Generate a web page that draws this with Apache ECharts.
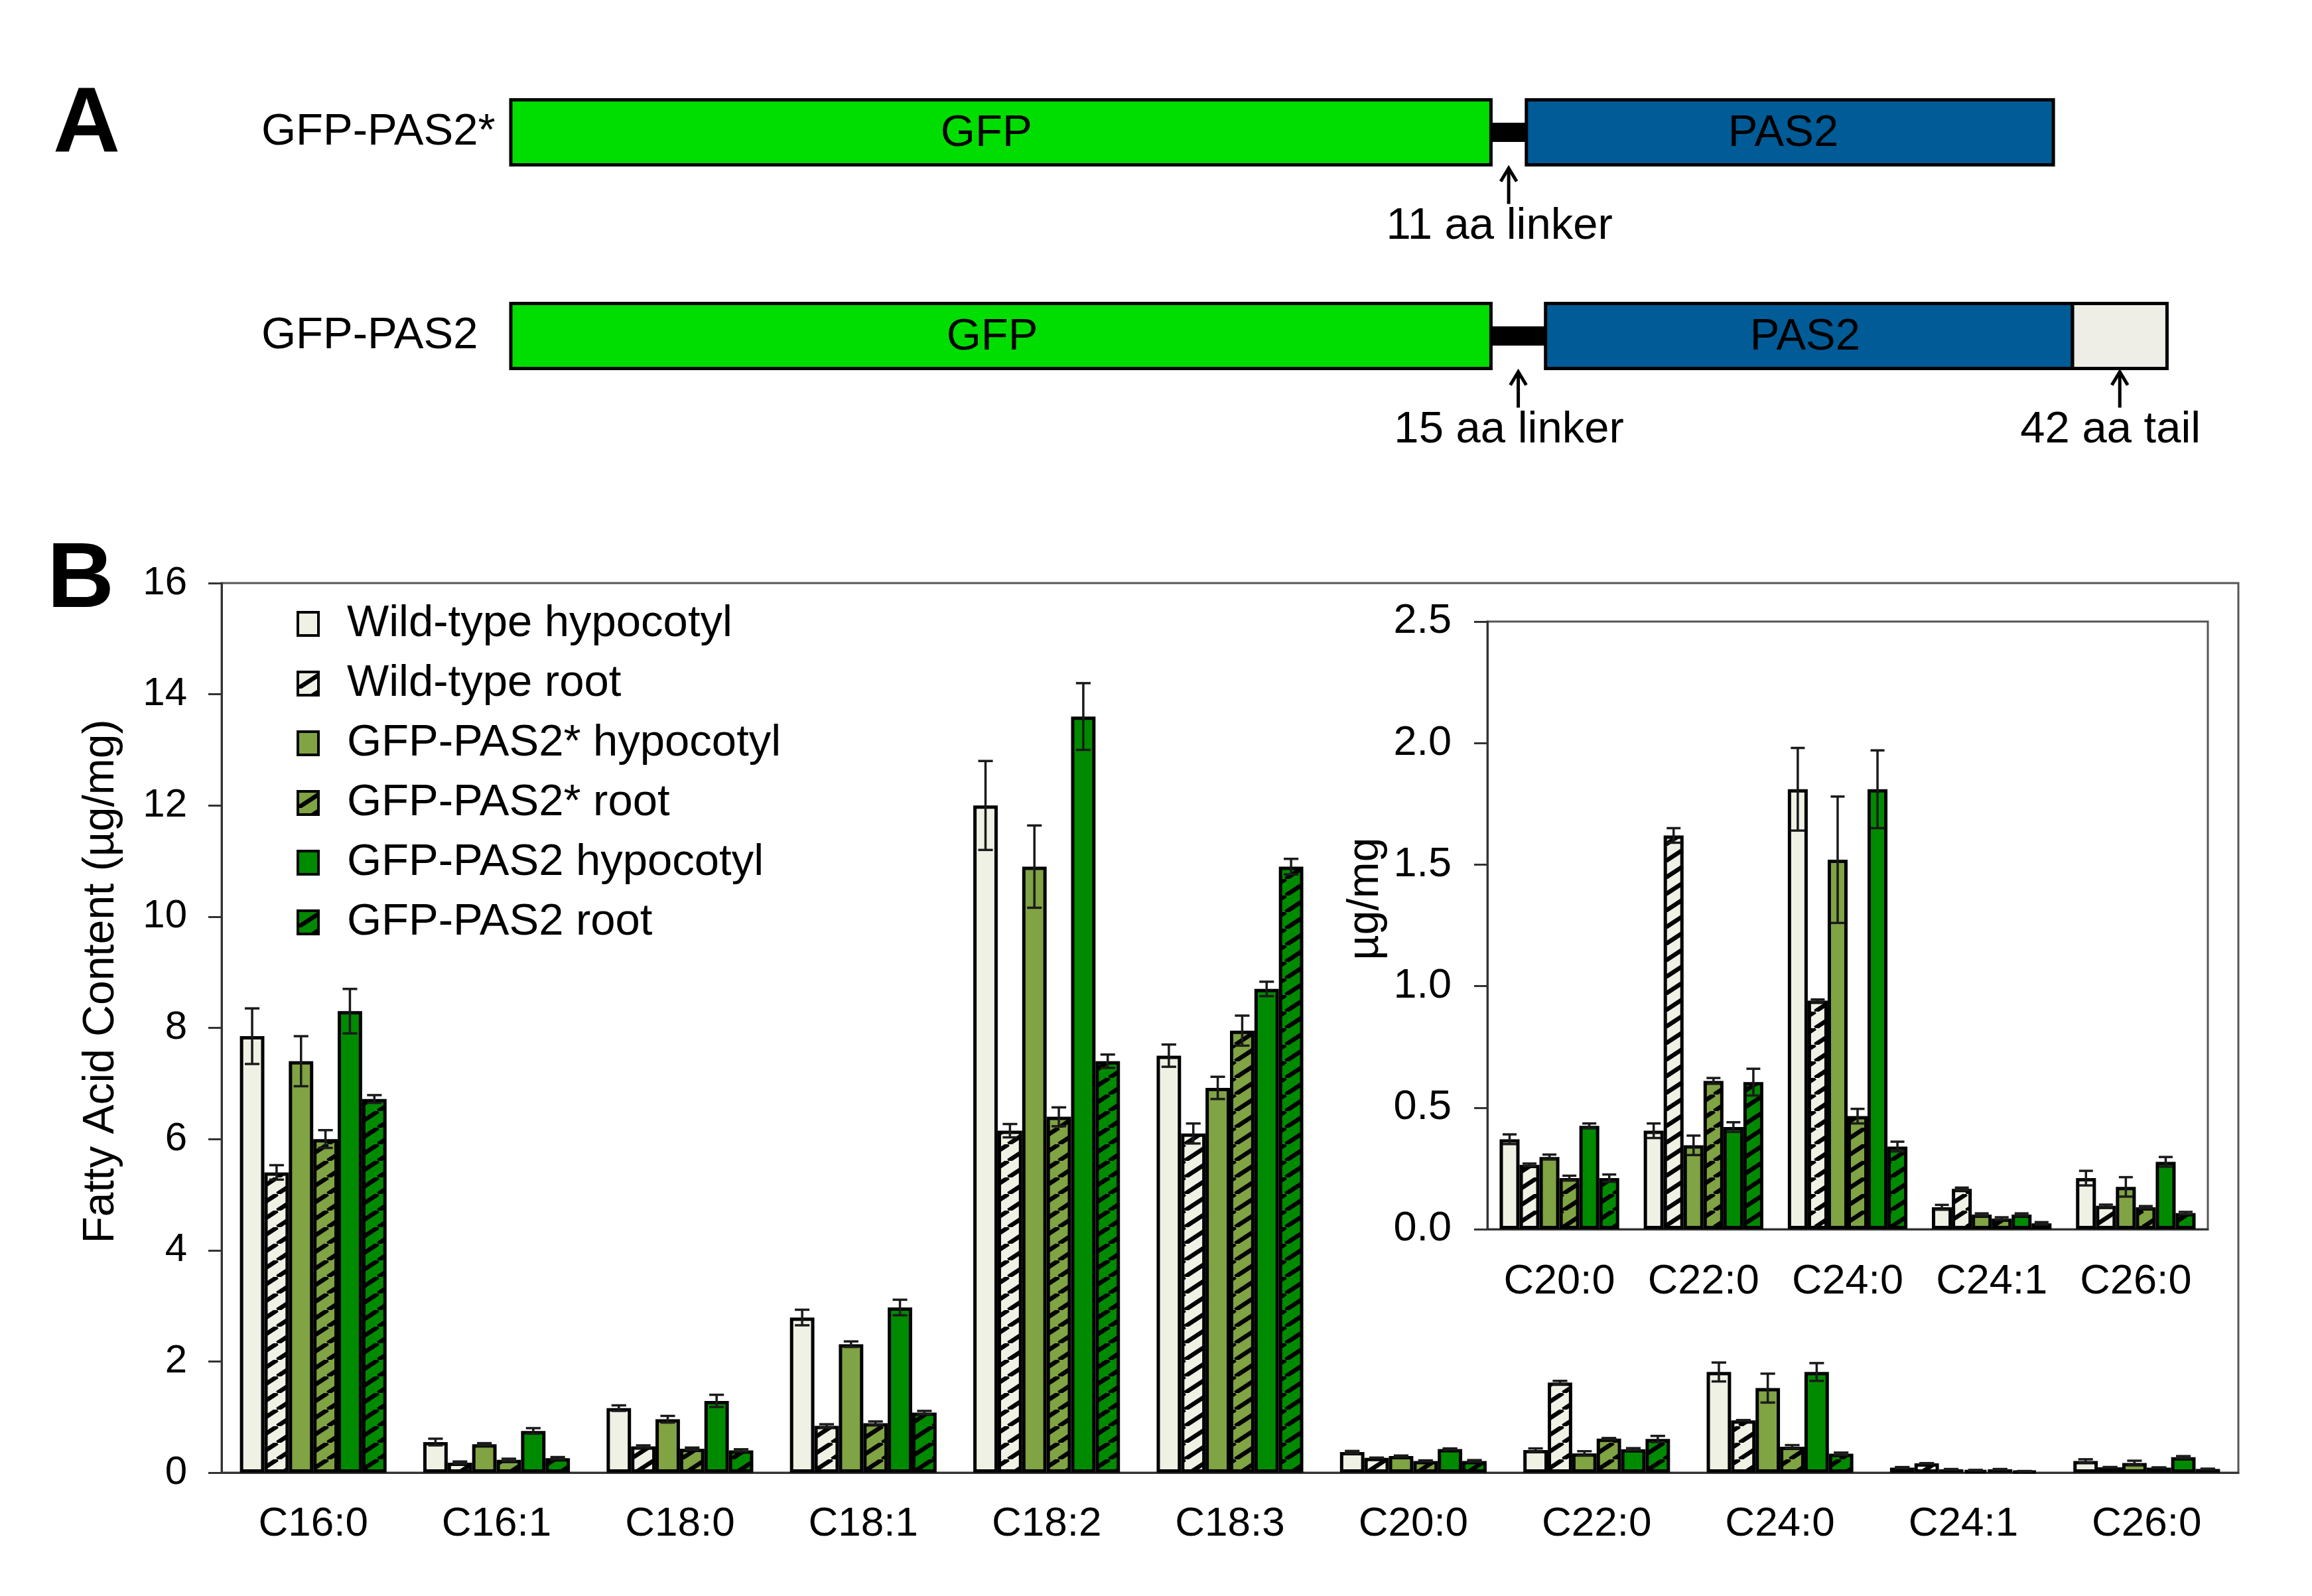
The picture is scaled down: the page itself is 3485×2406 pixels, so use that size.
<!DOCTYPE html>
<html><head><meta charset="utf-8">
<script src="https://cdn.jsdelivr.net/npm/echarts@6/dist/echarts.min.js"></script>
<style>html,body{margin:0;padding:0;background:#fff}#c{width:3485px;height:2406px}</style>
</head><body><div id="c"></div>
<script>
// ---------- Panel B data ----------
const categories = ['C16:0','C16:1','C18:0','C18:1','C18:2','C18:3','C20:0','C22:0','C24:0','C24:1','C26:0'];
const insetStart = 6; // inset shows C20:0 .. C26:0
const seriesNames = ['Wild-type hypocotyl','Wild-type root','GFP-PAS2* hypocotyl','GFP-PAS2* root','GFP-PAS2 hypocotyl','GFP-PAS2 root'];

const wtHypocotyl    = [7.85, 0.55, 1.16, 2.79, 12.0, 7.50, 0.370, 0.405, 1.81, 0.090, 0.210];
const wtRoot         = [5.40, 0.18, 0.47, 0.84, 6.15, 6.10, 0.265, 1.620, 0.94, 0.166, 0.096];
const pas2sHypocotyl = [7.40, 0.51, 0.96, 2.31, 10.9, 6.92, 0.297, 0.345, 1.52, 0.060, 0.174];
const pas2sRoot      = [6.00, 0.23, 0.43, 0.89, 6.40, 7.95, 0.210, 0.610, 0.465, 0.044, 0.090];
const pas2Hypocotyl  = [8.30, 0.75, 1.29, 2.97, 13.6, 8.70, 0.425, 0.420, 1.81, 0.060, 0.277];
const pas2Root       = [6.72, 0.26, 0.40, 1.08, 7.40, 10.9, 0.210, 0.605, 0.34, 0.024, 0.066];

const wtHypocotylErr    = [0.50, 0.06, 0.05, 0.14, 0.80, 0.20, 0.020, 0.030, 0.17, 0.010, 0.030];
const wtRootErr         = [0.13, 0.02, 0.02, 0.03, 0.12, 0.18, 0.005, 0.030, 0.005, 0.005, 0.005];
const pas2sHypocotylErr = [0.45, 0.02, 0.06, 0.05, 0.74, 0.20, 0.010, 0.040, 0.26, 0.005, 0.040];
const pas2sRootErr      = [0.16, 0.02, 0.02, 0.03, 0.17, 0.27, 0.010, 0.012, 0.03, 0.005, 0.005];
const pas2HypocotylErr  = [0.40, 0.05, 0.11, 0.14, 0.60, 0.13, 0.010, 0.020, 0.16, 0.005, 0.020];
const pas2RootErr       = [0.07, 0.02, 0.02, 0.03, 0.12, 0.14, 0.015, 0.055, 0.02, 0.005, 0.005];

const mainYTicks  = [0, 2, 4, 6, 8, 10, 12, 14, 16];
const insetYTicks = [0.0, 0.5, 1.0, 1.5, 2.0, 2.5];

// ---------- Panel A data (schematic segment lengths) ----------
const constructs   = ['GFP-PAS2*', 'GFP-PAS2'];
const gfpLength    = [664, 664];
const linkerLength = [24, 37];
const pas2Length   = [357, 357];
const tailLength   = [0, 64];
const domainLabels = ['GFP', '', 'PAS2', ''];
const annotationLabels = ['11 aa linker', '15 aa linker', '42 aa tail'];

// ---------- styles ----------
const FONT = "'Liberation Sans', Arial, sans-serif";
const baseColors = ['#EEF1E4', '#EEF1E4', '#80A343', '#80A343', '#008A00', '#008A00'];
const hatched = [false, true, false, true, false, true];
const domainColors = ['#00DD00', '#000000', '#005B96', '#EEEEE6'];
const labelShift = [-22, 0, -10, 0];

function hatch(base) {
  const W = 38, V = 25;
  const c = document.createElement('canvas');
  c.width = W; c.height = V;
  const g = c.getContext('2d');
  g.fillStyle = base; g.fillRect(0, 0, W, V);
  g.strokeStyle = '#000'; g.lineWidth = 6.5;
  g.beginPath();
  for (const k of [-1, 0, 1]) { g.moveTo(k * W, V); g.lineTo(k * W + W, 0); }
  g.stroke();
  return { image: c, repeat: 'repeat' };
}
const fills = baseColors.map((c, i) => hatched[i] ? hatch(c) : c);

const allValues = [wtHypocotyl, wtRoot, pas2sHypocotyl, pas2sRoot, pas2Hypocotyl, pas2Root];
const allErrors = [wtHypocotylErr, wtRootErr, pas2sHypocotylErr, pas2sRootErr, pas2HypocotylErr, pas2RootErr];

// ---------- Panel A segments ----------
const segments = [];
const annotationPoints = [];
constructs.forEach((name, r) => {
  let s = 0;
  segments.push([s, s + gfpLength[r], r, 0]); s += gfpLength[r];
  segments.push([s, s + linkerLength[r], r, 1]);
  annotationPoints.push([s + linkerLength[r] / 2, r]);
  s += linkerLength[r];
  segments.push([s, s + pas2Length[r], r, 2]); s += pas2Length[r];
  if (tailLength[r] > 0) {
    segments.push([s, s + tailLength[r], r, 3]);
    annotationPoints.push([s + tailLength[r] / 2, r]);
  }
});

const series = [];
// panel A boxes
series.push({
  type: 'custom', xAxisIndex: 0, yAxisIndex: 0, silent: true,
  data: segments, encode: { x: [0, 1], y: 2 },
  renderItem(params, api) {
    const x0 = api.value(0), x1 = api.value(1), r = api.value(2), k = api.value(3);
    const p0 = api.coord([x0, r]), p1 = api.coord([x1, r]);
    const h = k === 1 ? 29 : 98;
    const ch = [{
      type: 'rect',
      shape: { x: p0[0], y: p0[1] - h / 2, width: p1[0] - p0[0], height: h },
      style: { fill: domainColors[k], stroke: k === 1 ? null : '#000', lineWidth: 5 }
    }];
    if (domainLabels[k]) {
      ch.push({ type: 'text', z2: 5, style: { text: domainLabels[k], x: (p0[0] + p1[0]) / 2 + labelShift[k] * (r === 0 ? 1 : 0.6), y: p0[1] + 2,
        align: 'center', verticalAlign: 'middle', fontSize: 67, fontFamily: FONT, fill: '#000' } });
    }
    return { type: 'group', children: ch };
  }
});
// panel A annotations
series.push({
  type: 'custom', xAxisIndex: 0, yAxisIndex: 0, silent: true,
  data: annotationPoints, encode: { x: 0, y: 1 },
  renderItem(params, api) {
    const p = api.coord([api.value(0), api.value(1)]);
    const tip = p[1] + 52, end = p[1] + 108;
    return { type: 'group', children: [
      { type: 'line', shape: { x1: p[0], y1: tip + 2, x2: p[0], y2: end }, style: { stroke: '#000', lineWidth: 5 } },
      { type: 'polyline', shape: { points: [[p[0] - 12, tip + 22], [p[0], tip + 2], [p[0] + 12, tip + 22]] }, style: { stroke: '#000', lineWidth: 5, fill: null } },
      { type: 'text', style: { text: annotationLabels[params.dataIndex], x: p[0] - 14, y: p[1] + 142,
        align: 'center', verticalAlign: 'middle', fontSize: 67, fontFamily: FONT, fill: '#000' } }
    ]};
  }
});

function errSeries(idx, axis, vals, errs, gapFrac, capFrac) {
  return {
    type: 'custom', name: 'err' + axis + '_' + idx, xAxisIndex: axis, yAxisIndex: axis, z: 10, silent: true,
    data: vals.map((v, i) => [i, v, errs[i]]), encode: { x: 0, y: 1 },
    renderItem(params, api) {
      const ci = api.value(0), v = api.value(1), e = api.value(2);
      const band = api.size([1, 0])[0];
      const gw = band * (1 - gapFrac);
      const bw = gw / 6;
      const cx = api.coord([ci, v])[0] - gw / 2 + (idx + 0.5) * bw;
      const yT = api.coord([ci, v + e])[1], yB = api.coord([ci, v - e])[1];
      const hw = bw * capFrac;
      const st = { stroke: '#1a1a1a', lineWidth: 3.5 };
      return { type: 'group', children: [
        { type: 'line', shape: { x1: cx, y1: yT, x2: cx, y2: yB }, style: st },
        { type: 'line', shape: { x1: cx - hw, y1: yT, x2: cx + hw, y2: yT }, style: st },
        { type: 'line', shape: { x1: cx - hw, y1: yB, x2: cx + hw, y2: yB }, style: st }
      ]};
    }
  };
}

const mainGap = 0.20, insetGap = 0.17;
seriesNames.forEach((name, i) => {
  series.push({
    type: 'bar', name, xAxisIndex: 1, yAxisIndex: 1, data: allValues[i],
    barGap: '0%', barCategoryGap: (mainGap * 100) + '%',
    itemStyle: { color: fills[i], borderColor: '#000', borderWidth: 5 }
  });
});
seriesNames.forEach((name, i) => {
  series.push({
    type: 'bar', name, xAxisIndex: 2, yAxisIndex: 2, data: allValues[i].slice(insetStart),
    barGap: '0%', barCategoryGap: (insetGap * 100) + '%',
    itemStyle: { color: fills[i], borderColor: '#000', borderWidth: 5 }
  });
});
seriesNames.forEach((name, i) => {
  series.push(errSeries(i, 1, allValues[i], allErrors[i], mainGap, 0.3));
  series.push(errSeries(i, 2, allValues[i].slice(insetStart), allErrors[i].slice(insetStart), insetGap, 0.35));
});

const axisLineStyle = { color: '#333', width: 3 };
const chart = echarts.init(document.getElementById('c'), null, { renderer: 'canvas' });
chart.setOption({
  backgroundColor: '#fff',
  animation: false,
  textStyle: { fontFamily: FONT },
  graphic: [
    { type: 'text', left: 80, top: 120, style: { text: 'A', fontSize: 140, fontWeight: 'bold', fontFamily: FONT, fill: '#000' } },
    { type: 'text', left: 71, top: 806, style: { text: 'B', fontSize: 140, fontWeight: 'bold', fontFamily: FONT, fill: '#000' } }
  ],
  legend: {
    data: seriesNames.map(n => ({ name: n, icon: 'rect' })), orient: 'vertical', left: 447, top: 907, padding: 0,
    itemWidth: 31, itemHeight: 35, itemGap: 23, selectedMode: false,
    itemStyle: { borderColor: '#000', borderWidth: 4 },
    textStyle: { fontSize: 67, fontFamily: FONT, color: '#000', padding: [0, 0, 0, 38] }
  },
  grid: [
    { left: 770, width: 2670, top: 46, height: 614 },
    { left: 334, width: 3040, top: 879, height: 1341, show: true, borderColor: '#555', borderWidth: 3, backgroundColor: 'transparent' },
    { left: 2242, width: 1086, top: 937, height: 916, show: true, borderColor: '#555', borderWidth: 3, backgroundColor: '#fff' }
  ],
  xAxis: [
    { type: 'value', gridIndex: 0, min: 0, max: 1200, show: false },
    { type: 'category', gridIndex: 1, data: categories,
      axisLine: { lineStyle: axisLineStyle }, axisTick: { length: 24, lineStyle: axisLineStyle },
      axisLabel: { fontSize: 62, color: '#000', margin: 47, fontFamily: FONT, interval: 0 } },
    { type: 'category', gridIndex: 2, data: categories.slice(insetStart),
      axisLine: { lineStyle: axisLineStyle }, axisTick: { length: 22, lineStyle: axisLineStyle },
      axisLabel: { fontSize: 63, color: '#000', margin: 48, fontFamily: FONT, interval: 0 } }
  ],
  yAxis: [
    { type: 'category', gridIndex: 0, data: constructs, inverse: true,
      axisLine: { show: false }, axisTick: { show: false },
      axisLabel: { align: 'left', margin: 376, fontSize: 67, color: '#000', fontFamily: FONT } },
    { type: 'value', gridIndex: 1, min: mainYTicks[0], max: mainYTicks[mainYTicks.length - 1], interval: mainYTicks[1] - mainYTicks[0],
      name: 'Fatty Acid Content (µg/mg)', nameLocation: 'middle', nameGap: 148, nameRotate: 90,
      nameTextStyle: { fontSize: 66, color: '#000', fontFamily: FONT, padding: [0, 0, 0, 140] },
      axisLine: { show: true, lineStyle: axisLineStyle }, axisTick: { show: true, length: 20, lineStyle: axisLineStyle },
      splitLine: { show: false },
      axisLabel: { fontSize: 60, color: '#000', margin: 52, fontFamily: FONT } },
    { type: 'value', gridIndex: 2, min: insetYTicks[0], max: insetYTicks[insetYTicks.length - 1], interval: insetYTicks[1] - insetYTicks[0],
      name: 'µg/mg', nameLocation: 'middle', nameGap: 150, nameRotate: 90,
      nameTextStyle: { fontSize: 66, color: '#000', fontFamily: FONT, padding: [0, 0, 0, 80] },
      axisLine: { show: true, lineStyle: axisLineStyle }, axisTick: { show: true, length: 20, lineStyle: axisLineStyle },
      splitLine: { show: false },
      axisLabel: { fontSize: 63, color: '#000', margin: 54, fontFamily: FONT, formatter: v => v.toFixed(1) } }
  ],
  series
});
</script></body></html>
